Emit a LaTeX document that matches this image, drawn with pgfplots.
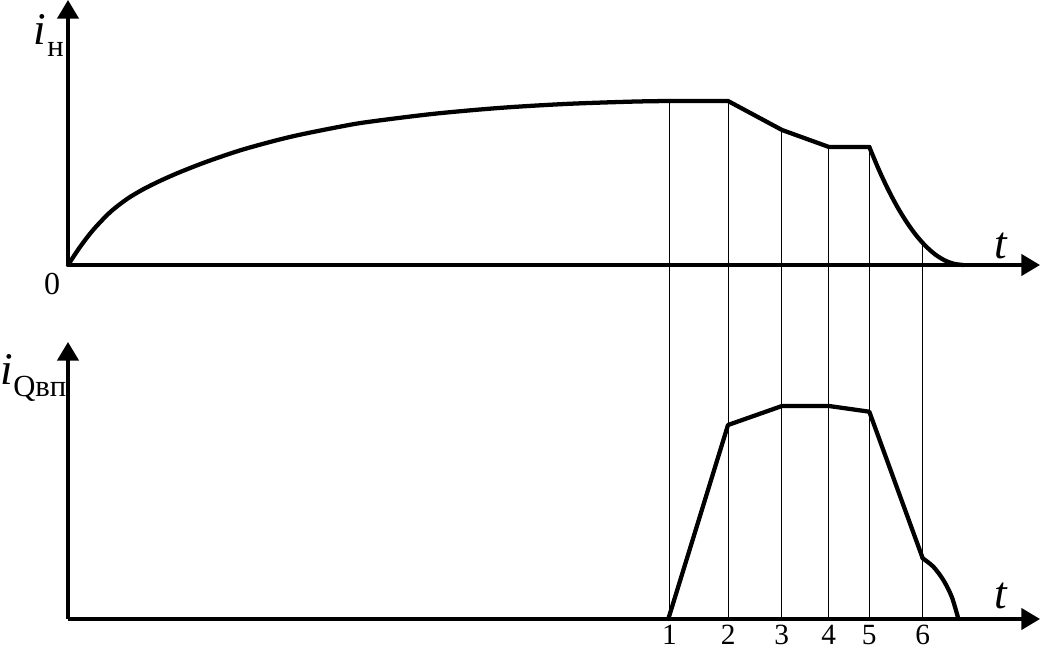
\documentclass[border=0pt]{standalone}
\usepackage{fontspec}
\setmainfont{Liberation Serif}
\usepackage{pgfplots}
\pgfplotsset{compat=1.18}
\usetikzlibrary{arrows.meta}
\begin{document}
\begin{tikzpicture}
\useasboundingbox (0,0) rectangle (780.75pt,487.5pt);
\pgfplotsset{
 myaxis/.style={x=0.75pt, y=0.75pt, xmin=0, xmax=972, ymin=0,
   axis lines*=left, xtick=\empty, ytick=\empty, clip=false, anchor=origin,
   axis line style={line width=2.5pt, -{Triangle[length=14pt,width=16pt]}}},
}
\tikzset{
 curve/.style={black, line width=3.2pt, line join=round, line cap=round},
 thinl/.style={black, line width=0.8pt},
 big/.style={inner sep=0pt, font=\fontsize{34pt}{40pt}\selectfont\itshape},
 sub/.style={inner sep=0pt, font=\fontsize{23pt}{28pt}\selectfont},
 dig/.style={inner sep=0pt, anchor=north, font=\fontsize{22pt}{26pt}\selectfont},
}
% ---------- top axis ----------
\begin{axis}[myaxis, ymax=265, at={(51pt,288.75pt)}]
\addplot[curve, smooth] coordinates {
 (0,0) (12,18) (25,34.9) (42,52.7) (59,66) (75,75.6) (92,84.1) (112,92.9)
 (139,103.4) (172,114.6) (205,123.8) (232,130.3) (272,138.3) (299,142.9)
 (365,151.1) (432,157.1) (499,161.1) (565,163.4) (602,164)};
\addplot[curve] coordinates {
 (602,164) (660,164) (714,135) (761,118) (801.3,118)};
\addplot[curve, smooth] coordinates {
 (801.3,118) (810.7,95.6) (820.1,75.5) (829.5,57.8) (838.9,42.5) (848.3,29.5)
 (857.7,18.9) (867.1,10.6) (876.5,4.7) (885.9,1.2) (895.3,0)};
% vertical guide lines
\addplot[thinl] coordinates {(601.5,164) (601.5,-354)};
\addplot[thinl] coordinates {(660.3,164) (660.3,-354)};
\addplot[thinl] coordinates {(713.7,135) (713.7,-354)};
\addplot[thinl] coordinates {(760.7,118) (760.7,-354)};
\addplot[thinl] coordinates {(801.3,118) (801.3,-354)};
\addplot[thinl] coordinates {(854.7,21.7) (854.7,-354)};
\node[big, anchor=base west] at (axis cs:-35,220) {i};
\node[sub, anchor=base west] at (axis cs:-21,208) {н};
\node[dig, font=\fontsize{24pt}{28pt}\selectfont] at (axis cs:-16,-8) {0};
\node[big, anchor=base] at (axis cs:933,6) {t};
\end{axis}
% ---------- bottom axis ----------
\begin{axis}[myaxis, ymax=277, at={(51pt,23.25pt)}]
\addplot[curve] coordinates {
 (600.3,0) (660,194) (714,213) (761,213) (801.3,207.3) (854.7,60.7)};
\addplot[curve, smooth] coordinates {
 (854.7,60.7) (865.3,52.3) (875.3,39) (883.7,22.3) (890.3,0.3)};
\node[big, anchor=base west] at (axis cs:-68,234) {i};
\node[sub, anchor=base west] at (axis cs:-55,222) {Qвп};
\node[big, anchor=base] at (axis cs:933,11) {t};
\node[dig] at (axis cs:601.5,-6) {1};
\node[dig] at (axis cs:660.3,-6) {2};
\node[dig] at (axis cs:713.7,-6) {3};
\node[dig] at (axis cs:760.7,-6) {4};
\node[dig] at (axis cs:801.3,-6) {5};
\node[dig] at (axis cs:854.7,-6) {6};
\end{axis}
\end{tikzpicture}
\end{document}
